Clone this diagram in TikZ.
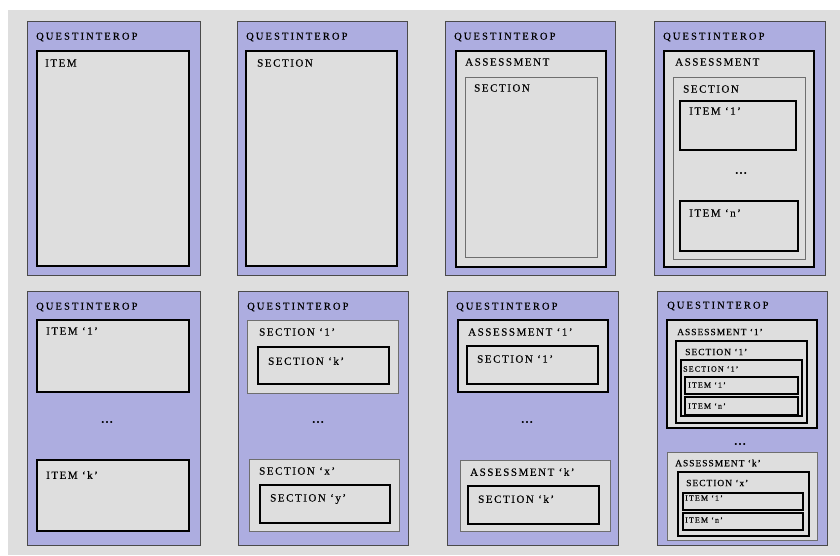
\documentclass[tikz,border=0pt]{standalone}
\usepackage{fontspec}
\setmainfont{Liberation Serif}[LetterSpace=14, FakeBold=0.25]
\definecolor{pagebg}{HTML}{DEDEDE}
\definecolor{lavender}{HTML}{ADADE0}
\definecolor{frame}{HTML}{4A4A4A}
\definecolor{softline}{HTML}{6E6E6E}
\tikzset{
  panel/.style={draw=frame, line width=1pt, fill=lavender},
  darkbox/.style={draw=black, line width=1.1pt, fill=pagebg},
  lightbox/.style={draw=softline, line width=0.9pt, fill=pagebg},
  ptitle/.style={anchor=west, inner sep=0pt, font=\fontsize{10.5}{11}\selectfont\addfontfeature{LetterSpace=20}},
  plabel/.style={anchor=west, inner sep=0pt, font=\fontsize{11}{12}\selectfont},
  pmid/.style={anchor=west, inner sep=0pt, font=\fontsize{9.5}{10}\selectfont\addfontfeature{LetterSpace=10}},
  psmall/.style={anchor=west, inner sep=0pt, font=\fontsize{8}{9}\selectfont},
  pdots/.style={inner sep=0pt, font=\bfseries\fontsize{11}{12}\selectfont}
}
\begin{document}
\begin{tikzpicture}[x=1pt, y=-1pt]
  \useasboundingbox (0,0) rectangle (840,555);
  \fill[white] (0,0) rectangle (840,555);
  \fill[pagebg] (8,10) rectangle (840,555);

  % QUESTINTEROP / ITEM
  \begin{scope}[shift={(27,21)}]
    \draw[panel] (0,0) rectangle (173,254);
    \node[ptitle] (t1) at (9,16) {QUESTINTEROP};
    \draw[darkbox] (10,30) rectangle (162,245);
    \node[plabel] (i1) at (18,42) {ITEM};
  \end{scope}

  % QUESTINTEROP / SECTION
  \begin{scope}[shift={(237,21)}]
    \draw[panel] (0,0) rectangle (170,254);
    \node[ptitle] (t2) at (9,16) {QUESTINTEROP};
    \draw[darkbox] (9,30) rectangle (160,245);
    \node[plabel] (s2) at (20,42) {SECTION};
  \end{scope}

  % QUESTINTEROP / ASSESSMENT / SECTION
  \begin{scope}[shift={(445,21)}]
    \draw[panel] (0,0) rectangle (170,254);
    \node[ptitle] (t3) at (9,16) {QUESTINTEROP};
    \draw[darkbox] (11,30) rectangle (161,246);
    \node[plabel] (a3) at (20,41) {ASSESSMENT};
    \draw[lightbox] (20,56) rectangle (152,236);
    \node[plabel] (s3) at (29,67) {SECTION};
  \end{scope}

  % QUESTINTEROP / ASSESSMENT / SECTION / ITEMs
  \begin{scope}[shift={(654,21)}]
    \draw[panel] (0,0) rectangle (171,254);
    \node[ptitle] (t4) at (9,16) {QUESTINTEROP};
    \draw[darkbox] (10,30) rectangle (160,246);
    \node[plabel] (a4) at (21,41) {ASSESSMENT};
    \draw[lightbox] (19,56) rectangle (151,238);
    \node[plabel] (s4) at (29,68) {SECTION};
    \draw[darkbox] (26,80) rectangle (142,129);
    \node[plabel] (i4a) at (35,90) {ITEM `1'};
    \node[pdots] (d4) at (87,152) {...};
    \draw[darkbox] (26,180) rectangle (144,230);
    \node[plabel] (i4b) at (35,192) {ITEM `n'};
  \end{scope}

  % several ITEMs
  \begin{scope}[shift={(27,291)}]
    \draw[panel] (0,0) rectangle (173,254);
    \node[ptitle] (t5) at (9,16) {QUESTINTEROP};
    \draw[darkbox] (10,29) rectangle (162,101);
    \node[plabel] (i5a) at (19,40) {ITEM `1'};
    \node[pdots] (d5) at (80,131) {...};
    \draw[darkbox] (10,169) rectangle (162,240);
    \node[plabel] (i5b) at (19,184) {ITEM `k'};
  \end{scope}

  % several SECTIONs
  \begin{scope}[shift={(238,291)}]
    \draw[panel] (0,0) rectangle (170,254);
    \node[ptitle] (t6) at (9,16) {QUESTINTEROP};
    \draw[lightbox] (9,29) rectangle (160,102);
    \node[plabel] (s6a) at (21,41) {SECTION `1'};
    \draw[darkbox] (20,56) rectangle (151,93);
    \node[plabel] (s6b) at (30,70) {SECTION `k'};
    \node[pdots] (d6) at (80,131) {...};
    \draw[lightbox] (11,168) rectangle (161,240);
    \node[plabel] (s6c) at (21,180) {SECTION `x'};
    \draw[darkbox] (22,194) rectangle (152,232);
    \node[plabel] (s6d) at (32,208) {SECTION `y'};
  \end{scope}

  % several ASSESSMENTs
  \begin{scope}[shift={(447,291)}]
    \draw[panel] (0,0) rectangle (171,254);
    \node[ptitle] (t7) at (9,16) {QUESTINTEROP};
    \draw[darkbox] (11,29) rectangle (161,101);
    \node[plabel] (a7a) at (21,41) {ASSESSMENT `1'};
    \draw[darkbox] (20,55) rectangle (151,93);
    \node[plabel] (s7a) at (30,68) {SECTION `1'};
    \node[pdots] (d7) at (80,131) {...};
    \draw[lightbox] (13,169) rectangle (163,240);
    \node[plabel] (a7b) at (23,181) {ASSESSMENT `k'};
    \draw[darkbox] (21,195) rectangle (152,233);
    \node[plabel] (s7b) at (31,208) {SECTION `k'};
  \end{scope}

  % nested ASSESSMENTs, SECTIONs and ITEMs
  \begin{scope}[shift={(657,291)}]
    \draw[panel] (0,0) rectangle (170,254);
    \node[ptitle] (t8) at (10,15) {QUESTINTEROP};
    \draw[darkbox] (10,29) rectangle (160,137);
    \node[pmid] (a8a) at (20,41) {ASSESSMENT `1'};
    \draw[darkbox] (19,50) rectangle (150,132);
    \node[pmid] (s8a) at (28,61) {SECTION `1'};
    \draw[darkbox] (24,69) rectangle (145,125);
    \node[psmall] (s8b) at (26,78) {SECTION `1'};
    \draw[darkbox] (28,86) rectangle (141,103);
    \node[psmall] (i8a) at (31,94) {ITEM `1'};
    \draw[darkbox] (28,106) rectangle (141,124);
    \node[psmall] (i8b) at (31,115) {ITEM `n'};
    \node[pdots] (d8) at (83,153) {...};
    \draw[lightbox] (10,161) rectangle (160,249);
    \node[pmid] (a8b) at (18,172) {ASSESSMENT `k'};
    \draw[darkbox] (21,181) rectangle (152,245);
    \node[pmid] (s8c) at (29,192) {SECTION `x'};
    \draw[darkbox] (26,202) rectangle (146,219);
    \node[psmall] (i8c) at (28,207) {ITEM `1'};
    \draw[darkbox] (26,222) rectangle (146,239);
    \node[psmall] (i8d) at (28,229) {ITEM `n'};
  \end{scope}
\end{tikzpicture}
\end{document}
